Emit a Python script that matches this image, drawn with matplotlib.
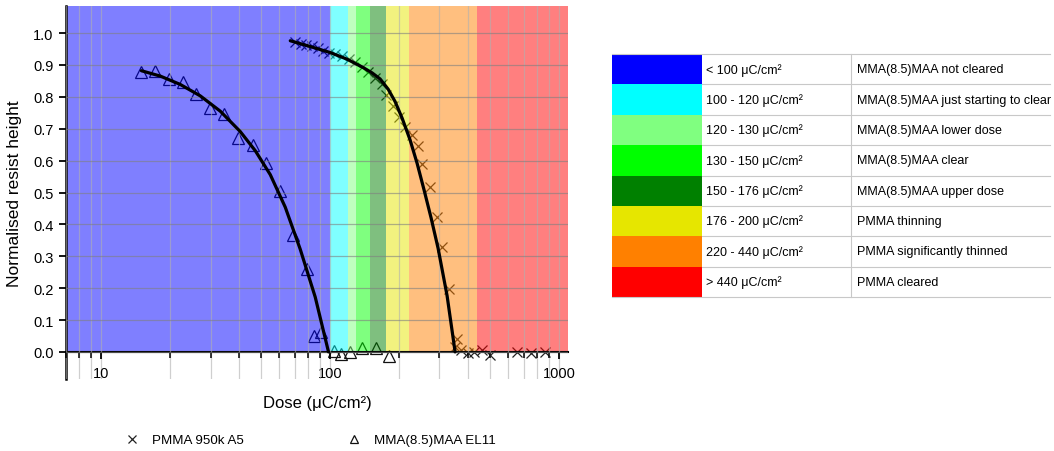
import matplotlib
matplotlib.use("Agg")
import matplotlib.pyplot as plt
from matplotlib.ticker import LogLocator, NullFormatter, FixedLocator, FixedFormatter
from matplotlib.patches import Rectangle

plt.rcParams['font.family'] = ['Liberation Sans', 'DejaVu Sans']

# ---------------- data ----------------
# PMMA 950k A5 measurements (dose in uC/cm2, normalised height)
pmma_dose = [70.3, 74.5, 78.6, 83.2, 88.0, 92.9, 98.3, 105.1, 112.5, 121.1, 128.6,
             137.5, 146.6, 157.3, 168.2, 176, 188, 200, 213, 227, 241, 253, 272,
             292, 307.5, 332, 357, 350, 373, 400.6, 425.6, 461.5, 500, 655.5, 754.6, 868.6]
pmma_height = [0.971, 0.966, 0.962, 0.958, 0.953, 0.945, 0.939, 0.934, 0.927, 0.918, 0.908,
               0.895, 0.878, 0.860, 0.840, 0.805, 0.772, 0.736, 0.705, 0.680, 0.645, 0.589, 0.516,
               0.422, 0.330, 0.197, 0.041, 0.015, 0.005, -0.005, 0.0, 0.005, -0.010, 0.0, -0.005, 0.0]
# PMMA fit curve
pmma_fit_dose = [66.9, 84.3, 100, 118.6, 139.3, 152.6, 165.3, 179.2, 192.2, 206.3,
                 223.4, 239.9, 257.4, 276.1, 296.2, 324.3, 351.5]
pmma_fit_height = [0.976, 0.955, 0.939, 0.918, 0.892, 0.875, 0.856, 0.824, 0.785, 0.733,
                   0.665, 0.591, 0.507, 0.420, 0.325, 0.176, 0.0]

# MMA(8.5)MAA EL11 measurements
mma_dose = [14.9, 17.2, 19.7, 22.8, 26.0, 29.7, 34.4, 39.4, 45.8, 52.4, 60.1, 68.7, 79.4,
            84.6, 91.0, 103.4, 111.7, 121.5, 137.5, 158.8, 181.5]
mma_height = [0.879, 0.882, 0.857, 0.848, 0.809, 0.765, 0.746, 0.671, 0.650, 0.593, 0.504,
              0.366, 0.261, 0.051, 0.063, 0.002, -0.008, 0.0, 0.011, 0.011, -0.012]
# MMA fit curve
mma_fit_dose = [14.95, 18.1, 22.1, 27.05, 33.08, 40.45, 47.05, 54.7, 63.6, 73.96, 86.0, 98.3]
mma_fit_height = [0.882, 0.865, 0.839, 0.803, 0.755, 0.691, 0.631, 0.556, 0.454, 0.322, 0.172, 0.0]

# dose bands
band_edges = [7, 100, 120, 130, 150, 176, 220, 440, 1100]
band_colors = ['#0000ff', '#00ffff', '#80ff80', '#00ff00', '#008000', '#e6e600', '#ff8000', '#ff0000']
range_labels = ['< 100 μC/cm²', '100 - 120 μC/cm²', '120 - 130 μC/cm²', '130 - 150 μC/cm²',
                '150 - 176 μC/cm²', '176 - 200 μC/cm²', '220 - 440 μC/cm²', '> 440 μC/cm²']
descriptions = ['MMA(8.5)MAA not cleared', 'MMA(8.5)MAA just starting to clear',
                'MMA(8.5)MAA lower dose', 'MMA(8.5)MAA clear', 'MMA(8.5)MAA upper dose',
                'PMMA thinning', 'PMMA significantly thinned', 'PMMA cleared']

x_major = [10, 100, 1000]
x_major_labels = ['10', '100', '1000']
y_ticks = [0.0, 0.1, 0.2, 0.3, 0.4, 0.5, 0.6, 0.7, 0.8, 0.9, 1.0]

# ---------------- figure ----------------
W, H = 1054, 452
fig = plt.figure(figsize=(W / 100, H / 100), dpi=100)
ax = fig.add_axes([66 / W, 72 / H, 502 / W, 373 / H])

YTOP = 1.085
ax.set_xscale('log')
ax.set_xlim(7.0, 1095)
ax.set_ylim(-0.085, YTOP)

# measurement markers drawn under translucent bands
h_pmma, = ax.plot(pmma_dose, pmma_height, ls='none', marker='x', ms=7, mew=0.9,
                  color='#222222', zorder=1)
h_mma, = ax.plot(mma_dose, mma_height, ls='none', marker='^', ms=8, mew=0.9,
                 mfc='none', mec='#111111', zorder=1)

for i, c in enumerate(band_colors):
    ax.fill_between([band_edges[i], band_edges[i + 1]], 0, YTOP, color=c, alpha=0.5,
                    lw=0, zorder=2)

# fit curves
ax.plot(mma_fit_dose, mma_fit_height, color='black', lw=2.3, zorder=4,
        solid_capstyle='round', solid_joinstyle='round')
ax.plot(pmma_fit_dose, pmma_fit_height, color='black', lw=2.3, zorder=4,
        solid_capstyle='round', solid_joinstyle='round')

ax.set_axisbelow(False)
ax.xaxis.set_major_locator(FixedLocator(x_major))
ax.xaxis.set_major_formatter(FixedFormatter(x_major_labels))
ax.xaxis.set_minor_locator(LogLocator(base=10, subs=range(2, 10)))
ax.xaxis.set_minor_formatter(NullFormatter())
ax.set_yticks(y_ticks)
ax.set_yticklabels([f'{v:.1f}' for v in y_ticks])

ax.grid(axis='x', which='both', color='#b0b0b0', alpha=0.6, lw=0.9)
ax.grid(axis='y', which='major', color='#808080', alpha=0.6, lw=0.9)

for s in ['top', 'right']:
    ax.spines[s].set_visible(False)
ax.spines['bottom'].set_position(('data', 0))
ax.spines['bottom'].set_linewidth(1.5)
ax.spines['left'].set_linewidth(1.8)
ax.tick_params(axis='x', which='major', direction='out', length=5, width=1.3,
               labelsize=10.5, pad=5)
ax.tick_params(axis='x', which='minor', direction='out', length=4, width=1.1)
ax.tick_params(axis='y', which='major', direction='out', length=5, width=1.3,
               labelsize=10.5, pad=4)

ax.set_xlabel('Dose (μC/cm²)', fontsize=12, labelpad=11)
ax.set_ylabel('Normalised resist height', fontsize=12.5, labelpad=8)

# bottom legend
fig.legend(handles=[h_pmma, h_mma], labels=['PMMA 950k A5', 'MMA(8.5)MAA EL11'],
           loc='center left', bbox_to_anchor=(125 / W, 11 / H), ncol=2, frameon=False,
           fontsize=9.6, handlelength=1.0, handletextpad=1.0, columnspacing=7.8,
           borderaxespad=0, borderpad=0, markerscale=0.75)

# colour key table
tax = fig.add_axes([612 / W, (H - 298) / H, 438 / W, 243 / H])
tax.set_xlim(0, 438)
tax.set_ylim(243, 0)
tax.axis('off')
nrow = len(band_colors)
rh = 243 / nrow
for i in range(nrow):
    tax.add_patch(Rectangle((0, i * rh), 90, rh, facecolor=band_colors[i], lw=0))
    tax.text(94, (i + 0.5) * rh, range_labels[i], va='center', ha='left', fontsize=9)
    tax.text(245, (i + 0.5) * rh, descriptions[i], va='center', ha='left', fontsize=9)
for i in range(nrow + 1):
    x0 = 0 if i in (0, nrow) else 90
    tax.plot([x0, 438], [i * rh, i * rh], color='#c8c8c8', lw=0.8, clip_on=False)
tax.plot([239, 239], [0, 243], color='#c8c8c8', lw=0.8, clip_on=False)

fig.savefig('out.png', dpi=100)
